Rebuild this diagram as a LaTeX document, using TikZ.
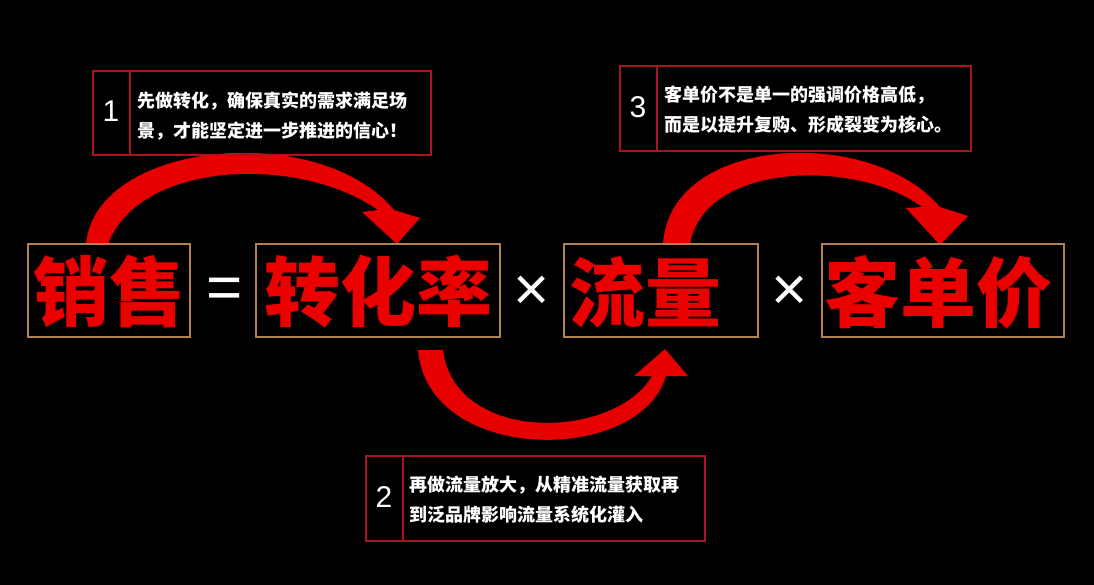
\documentclass[tikz,border=0pt]{standalone}
\usepackage{fontspec}
\setmainfont{Liberation Sans}
\newfontfamily\cjk{Noto Sans CJK SC}
\begin{document}
\begin{tikzpicture}[x=1pt,y=-1pt,
  term/.style={draw={rgb,255:red,176;green,128;blue,80},line width=1.2pt},
  callout/.style={draw={rgb,255:red,170;green,20;blue,30},line width=1.2pt},
  bigred/.style={text={rgb,255:red,235;green,0;blue,0},font=\cjk\bfseries\fontsize{76}{76}\selectfont},
  optxt/.style={text=white,font=\fontsize{62}{62}\selectfont},
  ctxt/.style={text=white,font=\cjk\bfseries\fontsize{18}{30}\selectfont,align=left,anchor=west},
  num/.style={text=white,font=\fontsize{30}{30}\selectfont},
  redarc/.style={fill={rgb,255:red,230;green,0;blue,0}}]
\fill[black] (0,0) rectangle (1094,585);
\useasboundingbox (0,0) rectangle (1094,585);
% arrows
\fill[redarc] (86,244) .. controls (96,140) and (320,120) .. (394,210) -- (420,218) -- (397,244) -- (362,212) -- (378,210) .. controls (300,155) and (140,160) .. (108,244) -- cycle;
\fill[redarc] (418,350) .. controls (428,465) and (640,465) .. (666,376) -- (688,376) -- (665,349) -- (634,376) -- (652,376) .. controls (615,440) and (455,445) .. (443,350) -- cycle;
\fill[redarc] (663,244) .. controls (670,135) and (870,125) .. (940,207) -- (968,216) -- (940,245) -- (906,208) -- (922,207) .. controls (860,160) and (705,160) .. (690,244) -- cycle;
% terms
\draw[term] (28,244) rectangle (190,337);
\draw[term] (256,244) rectangle (500,337);
\draw[term] (564,244) rectangle (758,337);
\draw[term] (822,244) rectangle (1064,337);
\node[bigred] (sales) at (109,292) {销售};
\node[bigred] (conv) at (378,292) {转化率};
\node[bigred] (flow) at (645,292) {流量};
\node[bigred] (price) at (938,292) {客单价};
\node[optxt] (eq) at (225,293) {=};
\node[optxt] (x1) at (532,293) {×};
\node[optxt] (x2) at (790,293) {×};
% callouts
\draw[callout] (93,71) rectangle (431,155) (130,71) -- (130,155);
\node[num] (n1) at (111,111) {1};
\node[ctxt] (t1) at (134,116) {先做转化，确保真实的需求满足场\\景，才能坚定进一步推进的信心！};
\draw[callout] (366,456) rectangle (705,541) (403,456) -- (403,541);
\node[num] (n2) at (384,497) {2};
\node[ctxt] (t2) at (406,500) {再做流量放大，从精准流量获取再\\到泛品牌影响流量系统化灌入};
\draw[callout] (620,66) rectangle (971,151) (657,66) -- (657,151);
\node[num] (n3) at (638,107) {3};
\node[ctxt] (t3) at (661,110) {客单价不是单一的强调价格高低，\\而是以提升复购、形成裂变为核心。};
\end{tikzpicture}
\end{document}
